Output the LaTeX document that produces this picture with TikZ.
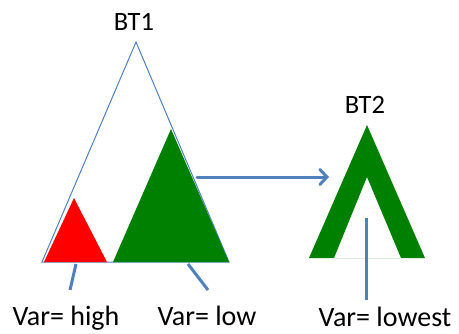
\documentclass[tikz,border=0pt]{standalone}
\usepackage{fontspec}
\setmainfont{Carlito}
\usetikzlibrary{arrows.meta}
\definecolor{lineblue}{RGB}{79,129,189}
\definecolor{treegreen}{RGB}{0,128,0}

\begin{document}
\begin{tikzpicture}[x=1pt, y=-1pt, thick,
    lbl/.style = {font=\fontsize{28}{30}\selectfont, anchor=base, inner sep=0pt},
    title/.style = {font=\fontsize{26.5}{28}\selectfont, anchor=base, inner sep=0pt},
    callout/.style = {draw=lineblue, line width=3pt}]
    \useasboundingbox (0,0) rectangle (459,333);
    % big tree BT1
    \draw[lineblue, line width=1pt] (136,42) -- (42,262) -- (229,262) -- cycle;
    \fill[red] (74,198) -- (44,262) -- (107,262) -- cycle;
    \fill[treegreen] (171,129) -- (113,262) -- (229,262) -- cycle;
    \node[title] (bt1) at (134,30) {BT1};
    % small tree BT2
    \fill[treegreen, even odd rule] (367,125) -- (309,258) -- (425,258) -- cycle
        (367,177) -- (334,258) -- (401,258) -- cycle;
    \node[title] (bt2) at (365,113) {BT2};
    % labels
    \node[lbl] (high)   at (66,325)  {Var= high};
    \node[lbl] (low)    at (207,325) {Var= low};
    \node[lbl] (lowest) at (385,326) {Var= lowest};
    \coordinate (c1) at (76,264);
    \coordinate (c2) at (188,264);
    \coordinate (c3) at (366,218);
    \coordinate (e1) at (70,290);
    \coordinate (e2) at (208,290);
    \coordinate (e3) at (366,300);
    \draw[callout] (c1) -- (e1);
    \draw[callout] (c2) -- (e2);
    \draw[callout] (c3) -- (e3);
    % copy arrow
    \coordinate (from) at (197,177);
    \coordinate (to)   at (329,177);
    \draw[callout, line cap=round, -{Straight Barb[length=7pt, width=15pt, line cap=round]}] (from) -- (to);
\end{tikzpicture}
\end{document}
